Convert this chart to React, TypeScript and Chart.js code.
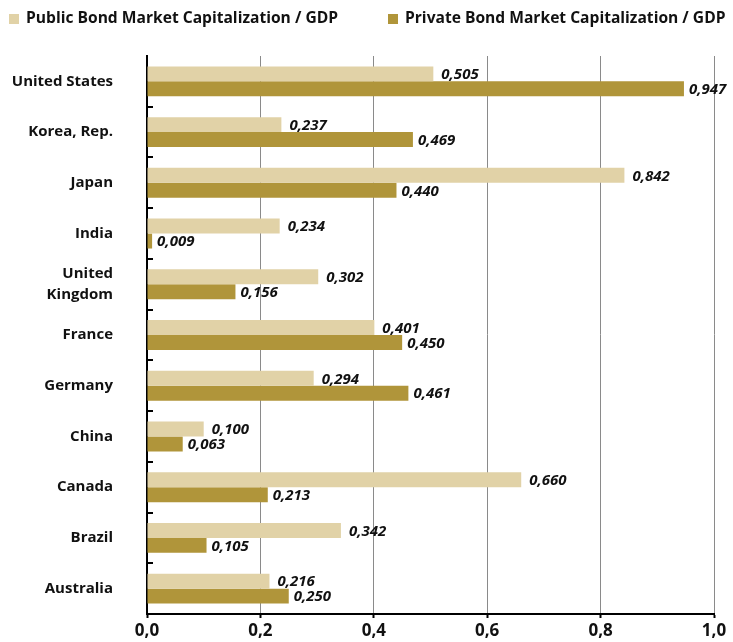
import React, { useEffect, useRef } from "react";
import { Chart, registerables } from "chart.js";

Chart.register(...registerables);

const categories: (string | string[])[] = [
  "United States",
  "Korea, Rep.",
  "Japan",
  "India",
  ["United", "Kingdom"],
  "France",
  "Germany",
  "China",
  "Canada",
  "Brazil",
  "Australia",
];
const publicValues = [0.505, 0.237, 0.842, 0.234, 0.302, 0.401, 0.294, 0.1, 0.66, 0.342, 0.216];
const privateValues = [0.947, 0.469, 0.44, 0.009, 0.156, 0.45, 0.461, 0.063, 0.213, 0.105, 0.25];
const seriesNames = ["Public Bond Market Capitalization / GDP", "Private Bond Market Capitalization / GDP"];
const seriesColors = ["#e1d2a7", "#b0953a"];
const xTicks = [0, 0.2, 0.4, 0.6, 0.8, 1.0];

const FONT = "'Open Sans', Roboto, sans-serif";
const fmt = (v: number, d: number) => v.toFixed(d).replace(".", ",");

const overlayPlugin = {
  id: "overlay",
  afterDraw(chart: any) {
    const ctx = chart.ctx as CanvasRenderingContext2D;
    const area = chart.chartArea;
    ctx.save();
    const n = categories.length;
    const band = (area.bottom - area.top) / n;
    ctx.strokeStyle = "#000";
    ctx.lineWidth = 2;
    for (let i = 1; i < n; i++) {
      const y = Math.round(area.top + band * i);
      ctx.beginPath();
      ctx.moveTo(area.left, y);
      ctx.lineTo(area.left + 6, y);
      ctx.stroke();
    }
    ctx.font = `italic 700 15px ${FONT}`;
    ctx.fillStyle = "#111";
    ctx.textAlign = "left";
    ctx.textBaseline = "middle";
    const offsets = [8, 5];
    chart.data.datasets.forEach((ds: any, di: number) => {
      const meta = chart.getDatasetMeta(di);
      meta.data.forEach((bar: any, i: number) => {
        ctx.fillText(fmt(ds.data[i], 3), bar.x + offsets[di], bar.y + 1);
      });
    });
    ctx.font = `700 15.6px ${FONT}`;
    ctx.textBaseline = "middle";
    const boxX = [9, 388];
    seriesNames.forEach((name, i) => {
      ctx.fillStyle = seriesColors[i];
      ctx.fillRect(boxX[i], 14, 10, 10);
      ctx.fillStyle = "#111";
      ctx.fillText(name, boxX[i] + 17, 19);
    });
    ctx.restore();
  },
};

export default function App() {
  const ref = useRef<HTMLCanvasElement | null>(null);
  useEffect(() => {
    if (!ref.current) return;
    const chart = new Chart(ref.current, {
      type: "bar",
      data: {
        labels: categories as any,
        datasets: [
          {
            label: seriesNames[0],
            data: publicValues,
            backgroundColor: seriesColors[0],
            categoryPercentage: 0.59,
            barPercentage: 1,
          },
          {
            label: seriesNames[1],
            data: privateValues,
            backgroundColor: seriesColors[1],
            categoryPercentage: 0.59,
            barPercentage: 1,
          },
        ],
      },
      options: {
        indexAxis: "y",
        animation: false,
        responsive: false,
        maintainAspectRatio: false,
        devicePixelRatio: 1,
        layout: { padding: { top: 56, right: 19, left: 0, bottom: 0 } },
        plugins: {
          legend: { display: false },
          tooltip: { enabled: false },
        },
        scales: {
          x: {
            type: "linear",
            min: 0,
            max: 1,
            afterBuildTicks: (s: any) => {
              s.ticks = xTicks.map((v) => ({ value: v }));
            },
            afterFit: (s: any) => {
              s.height = 28;
              s.paddingTop = 0;
              s.paddingBottom = 0;
            },
            grid: {
              color: "#8a8a8a",
              lineWidth: 1,
              tickColor: "#000",
              tickLength: 4,
              tickWidth: 2,
            },
            border: { display: true, color: "#000", width: 2 },
            ticks: {
              color: "#111",
              font: { family: FONT, size: 17, weight: "bold" },
              padding: 3,
              callback: (v: any) => fmt(Number(v), 1),
            },
          },
          y: {
            afterFit: (s: any) => {
              s.width = 147;
              s.paddingTop = 0;
              s.paddingBottom = 0;
            },
            grid: { display: false, drawTicks: false },
            border: { display: true, color: "#000", width: 2 },
            ticks: {
              color: "#111",
              font: { family: FONT, size: 15, weight: "bold", lineHeight: 1.45 },
              padding: 34,
            },
          },
        },
      },
      plugins: [overlayPlugin],
    } as any);
    return () => chart.destroy();
  }, []);
  return (
    <div style={{ position: "absolute", left: 0, top: 0, width: 733, height: 642 }}>
      <canvas ref={ref} width={733} height={642} style={{ display: "block" }} />
    </div>
  );
}
